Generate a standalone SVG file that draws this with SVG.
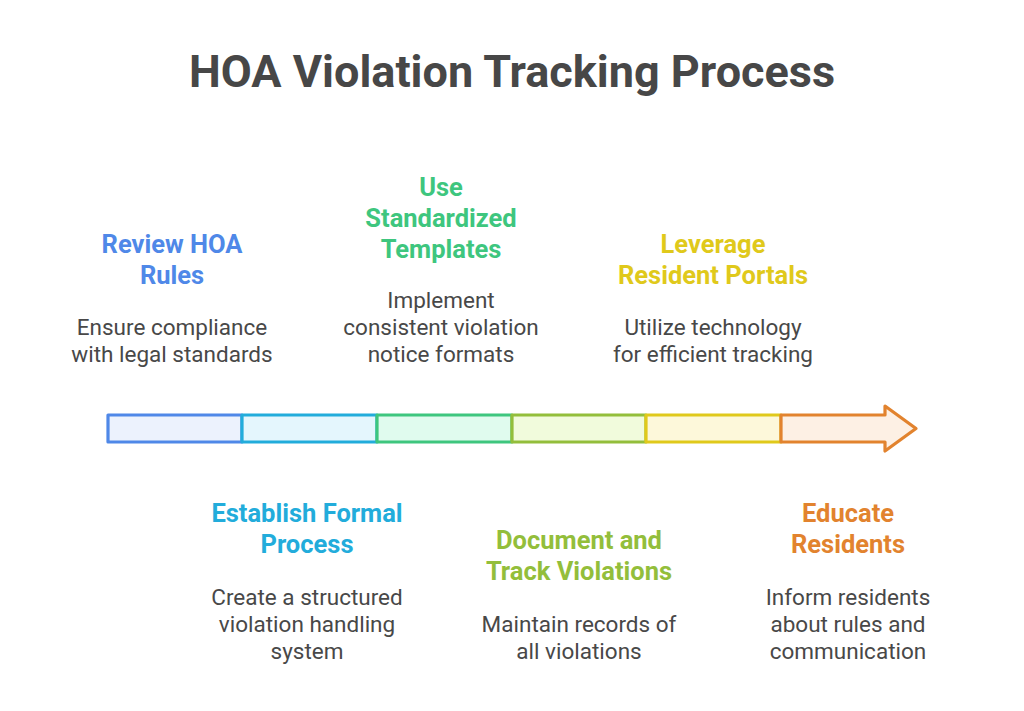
<svg xmlns="http://www.w3.org/2000/svg" width="1024" height="711" viewBox="0 0 1024 711">
<style>
.t{font-family:Roboto,"Liberation Sans",sans-serif;font-weight:700;font-size:45px;fill:#474747;text-anchor:middle}
.h{font-family:Roboto,"Liberation Sans",sans-serif;font-weight:700;font-size:25.5px;text-anchor:middle}
.d{font-family:Roboto,"Liberation Sans",sans-serif;font-size:22.5px;fill:#484848;text-anchor:middle}
.seg{stroke-width:3.2;stroke-linejoin:round}
</style>
<rect width="1024" height="711" fill="#fff"/>
<text class="t" x="512" y="87">HOA Violation Tracking Process</text>
<g id="connectors">
<rect class="seg" x="108" y="415" width="134" height="27" fill="#ecf2fd" stroke="#4f88e8"/>
<rect class="seg" x="242" y="415" width="135" height="27" fill="#e4f6fd" stroke="#22acdb"/>
<rect class="seg" x="377" y="415" width="135" height="27" fill="#e0fbee" stroke="#3ec67e"/>
<rect class="seg" x="512" y="415" width="134" height="27" fill="#f1fbdc" stroke="#93be3b"/>
<rect class="seg" x="646" y="415" width="135" height="27" fill="#fdf8da" stroke="#e0c91b"/>
<path class="seg" d="M781 415 H885 V406 L916 428.5 L885 451 V442 H781 Z" fill="#fdf0e4" stroke="#e2832e"/>
</g>
<g id="n1">
<text class="h" fill="#4f88e8" x="172" y="253">Review HOA</text>
<text class="h" fill="#4f88e8" x="172" y="284">Rules</text>
<text class="d" x="172" y="335">Ensure compliance</text>
<text class="d" x="172" y="362">with legal standards</text>
</g>
<g id="n2">
<text class="h" fill="#22acdb" x="307" y="522">Establish Formal</text>
<text class="h" fill="#22acdb" x="307" y="553">Process</text>
<text class="d" x="307" y="605">Create a structured</text>
<text class="d" x="307" y="632">violation handling</text>
<text class="d" x="307" y="659">system</text>
</g>
<g id="n3">
<text class="h" fill="#3ec67e" x="441" y="196">Use</text>
<text class="h" fill="#3ec67e" x="441" y="227">Standardized</text>
<text class="h" fill="#3ec67e" x="441" y="258">Templates</text>
<text class="d" x="441" y="308">Implement</text>
<text class="d" x="441" y="335">consistent violation</text>
<text class="d" x="441" y="362">notice formats</text>
</g>
<g id="n4">
<text class="h" fill="#93be3b" x="579" y="549">Document and</text>
<text class="h" fill="#93be3b" x="579" y="580">Track Violations</text>
<text class="d" x="579" y="632">Maintain records of</text>
<text class="d" x="579" y="659">all violations</text>
</g>
<g id="n5">
<text class="h" fill="#e0c91b" x="713" y="253">Leverage</text>
<text class="h" fill="#e0c91b" x="713" y="284">Resident Portals</text>
<text class="d" x="713" y="335">Utilize technology</text>
<text class="d" x="713" y="362">for efficient tracking</text>
</g>
<g id="n6">
<text class="h" fill="#e2832e" x="848" y="522">Educate</text>
<text class="h" fill="#e2832e" x="848" y="553">Residents</text>
<text class="d" x="848" y="605">Inform residents</text>
<text class="d" x="848" y="632">about rules and</text>
<text class="d" x="848" y="659">communication</text>
</g>
</svg>
